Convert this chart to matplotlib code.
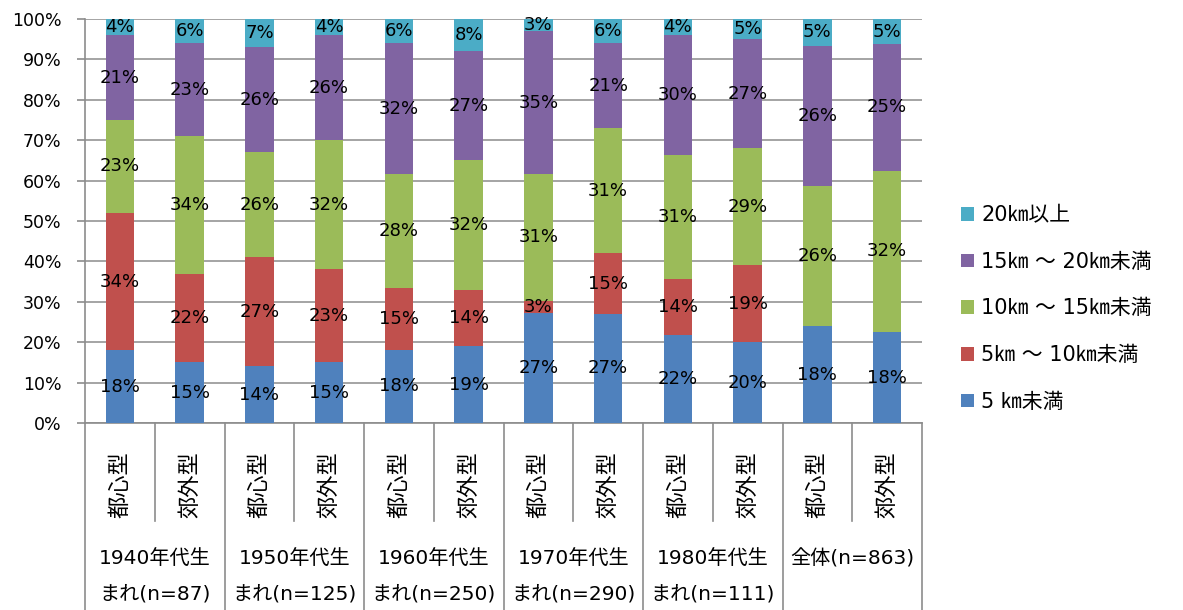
import numpy as np
import matplotlib
matplotlib.use("Agg")
import matplotlib.pyplot as plt
from matplotlib.transforms import blended_transform_factory

# ---- data -------------------------------------------------------------
categories = ["都心型", "郊外型"] * 6
group_labels = [
    "1940年代生\nまれ(n=87)",
    "1950年代生\nまれ(n=125)",
    "1960年代生\nまれ(n=250)",
    "1970年代生\nまれ(n=290)",
    "1980年代生\nまれ(n=111)",
    "全体(n=863)",
]
series_names = ["5 ㎞未満", "5㎞ ～ 10㎞未満", "10㎞ ～ 15㎞未満",
                "15㎞ ～ 20㎞未満", "20㎞以上"]
under_5 = [18, 15, 14, 15, 18, 19, 27, 27, 22, 20, 18, 18]
from_5_to_10 = [34, 22, 27, 23, 15, 14, 3, 15, 14, 19, 0, 0]
from_10_to_15 = [23, 34, 26, 32, 28, 32, 31, 31, 31, 29, 26, 32]
from_15_to_20 = [21, 23, 26, 26, 32, 27, 35, 21, 30, 27, 26, 25]
over_20 = [4, 6, 7, 4, 6, 8, 3, 6, 4, 5, 5, 5]

colors = ["#4F81BD", "#C0504D", "#9BBB59", "#8064A2", "#4BACC6"]
grid_gray = "#8C8C8C"

plt.rcParams["font.family"] = ["DejaVu Sans", "Noto Sans CJK JP"]

W, H = 1183, 610
fig = plt.figure(figsize=(W / 100, H / 100), dpi=100)
ax = fig.add_axes([85 / W, 1 - 423 / H, (922 - 85) / W, (423 - 19) / H])

series = np.array([under_5, from_5_to_10, from_10_to_15, from_15_to_20, over_20],
                  dtype=float)
totals = series.sum(axis=0)
shares = series / totals * 100

x = np.arange(len(categories))
bottom = np.zeros(len(categories))
handles = []
for vals, share, color, name in zip(series, shares, colors, series_names):
    bars = ax.bar(x, share, 0.41, bottom=bottom, color=color, label=name,
                  zorder=3, linewidth=0)
    handles.append(bars)
    for xi, v, s, b in zip(x, vals, share, bottom):
        if v > 0:
            ax.text(xi, b + s / 2, f"{int(v)}%", ha="center", va="center",
                    fontsize=13, color="black", zorder=4)
    bottom += share

ax.set_xlim(-0.5, len(categories) - 0.5)
ax.set_ylim(0, 100)
ax.set_yticks(np.arange(0, 101, 10))
ax.set_yticklabels([f"{v}%" for v in range(0, 101, 10)], fontsize=12.5)
ax.tick_params(axis="y", direction="out", length=6, width=1.2,
               color=grid_gray, pad=11)
ax.set_xticks([])
ax.yaxis.grid(True, color=grid_gray, linewidth=1.1, zorder=0)
ax.set_axisbelow(True)
for side in ("top", "right"):
    ax.spines[side].set_visible(False)
for side in ("left", "bottom"):
    ax.spines[side].set_color(grid_gray)
    ax.spines[side].set_linewidth(1.2)

# ---- two-level category axis below the plot ----------------------------
trans = blended_transform_factory(ax.transData, fig.transFigure)
y_axis = 1 - 423 / H
y_inner = 1 - 521 / H
for g in range(len(group_labels) + 1):
    ax.plot([2 * g - 0.5] * 2, [y_axis, 0], transform=trans, color=grid_gray,
            linewidth=1.2, clip_on=False)
for g in range(len(group_labels)):
    ax.plot([2 * g + 0.5] * 2, [y_axis, y_inner], transform=trans,
            color=grid_gray, linewidth=1.2, clip_on=False)

for xi, cat in zip(x, categories):
    ax.text(xi, 1 - 485 / H, cat, transform=trans, rotation=90,
            ha="center", va="center", fontsize=16, color="black")

for g, lab in enumerate(group_labels):
    for li, line in enumerate(lab.split("\n")):
        ax.text(2 * g + 0.5, 1 - (559 + 35 * li) / H, line, transform=trans,
                ha="center", va="center", fontsize=14.5, color="black")

# ---- legend ------------------------------------------------------------
fig.legend(handles[::-1], series_names[::-1], loc="center left",
           bbox_to_anchor=(961 / W, 1 - 308.5 / H), frameon=False,
           fontsize=15, handlelength=0.63, handleheight=0.63,
           handletextpad=0.35, labelspacing=1.28, borderpad=0,
           borderaxespad=0)

fig.savefig("out.png", dpi=100)
